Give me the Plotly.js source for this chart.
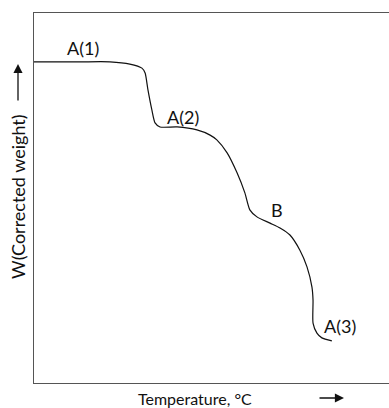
<!DOCTYPE html>
<html>
<head>
<meta charset="utf-8">
<script src="https://cdn.plot.ly/plotly-3.0.1.min.js"></script>
<style>html,body{margin:0;padding:0;background:#fff;}#chart{width:389px;height:408px;}</style>
</head>
<body>
<div id="chart"></div>
<script>
// Temperature (arbitrary units, left to right)
const temperature = [0, 13.0, 21.4, 27.0, 30.4, 31.3, 32.1, 33.2, 34.1, 35.5, 40.3, 45.9, 49.6, 51.5, 54.4, 57.2, 59.4, 60.8, 62.8, 66.5, 69.3, 72.1, 74.9, 76.9, 78.3, 78.6, 78.6, 79.7, 81.1, 83.9];
// Corrected weight (arbitrary units)
const weight = [86.8, 86.8, 86.8, 86.2, 85.1, 83.8, 79.2, 73.8, 70.3, 69.2, 69.2, 68.4, 67.0, 65.7, 62.2, 56.8, 51.4, 46.8, 44.9, 43.2, 41.9, 40.0, 35.9, 31.4, 25.9, 22.4, 16.2, 13.5, 12.2, 11.4];
// Stage labels
const stageLabels = ["A(1)", "A(2)", "B", "A(3)"];
const stageX = [13.8, 42.0, 68.4, 86.2];
const stageY = [90.5, 71.9, 46.8, 15.4];
const xTitle = "Temperature, °C";
const yTitle = "W(Corrected weight)";

const FONT = "Lato, 'Open Sans', sans-serif";

const trace = {
  x: temperature, y: weight, type: 'scatter', mode: 'lines',
  line: {color: '#111', width: 1.2, shape: 'spline', smoothing: 0.6},
  hoverinfo: 'skip'
};

// plot area in pixels: left 34, top 13, width 355, height 370
const px = v => (v - 34) / 355;
const py = v => (383 - v) / 370;

const annotations = stageLabels.map((t, i) => ({
  x: stageX[i], y: stageY[i], xref: 'x', yref: 'y', text: t, showarrow: false,
  font: {family: FONT, size: 18, color: '#111'}
}));

annotations.push({
  xref: 'paper', yref: 'paper', x: px(195), y: py(398), xanchor: 'center', yanchor: 'middle',
  text: xTitle, showarrow: false,
  font: {family: FONT, size: 16, color: '#111'}
});
annotations.push({
  xref: 'paper', yref: 'paper', x: px(18), y: py(197), xanchor: 'center', yanchor: 'middle',
  text: yTitle, showarrow: false,
  textangle: -90, font: {family: FONT, size: 18, color: '#111'}
});

// Arrow beside the y title (pointing up)
annotations.push({
  xref: 'paper', yref: 'paper', x: px(18), y: py(64),
  ax: 0, ay: 38, text: '', showarrow: true, standoff: 0, startstandoff: 0,
  arrowhead: 2, arrowsize: 1.4, arrowwidth: 1.3, arrowcolor: '#111'
});
// Arrow beside the x title (pointing right)
annotations.push({
  xref: 'paper', yref: 'paper', x: px(344), y: py(398),
  ax: -26, ay: 0, text: '', showarrow: true, standoff: 0, startstandoff: 0,
  arrowhead: 2, arrowsize: 1.4, arrowwidth: 1.3, arrowcolor: '#111'
});

const layout = {
  width: 389, height: 408,
  margin: {l: 34, r: 0, t: 13, b: 25},
  paper_bgcolor: '#fff', plot_bgcolor: '#fff',
  showlegend: false,
  xaxis: {
    range: [0, 100], showgrid: false, zeroline: false, showticklabels: false, ticks: '',
    showline: true, mirror: true, linecolor: '#555', linewidth: 1.3
  },
  yaxis: {
    range: [0, 100], showgrid: false, zeroline: false, showticklabels: false, ticks: '',
    showline: true, linecolor: '#555', linewidth: 1.5
  },
  annotations: annotations
};

Plotly.newPlot('chart', [trace], layout, {displayModeBar: false, staticPlot: true});
</script>
</body>
</html>
